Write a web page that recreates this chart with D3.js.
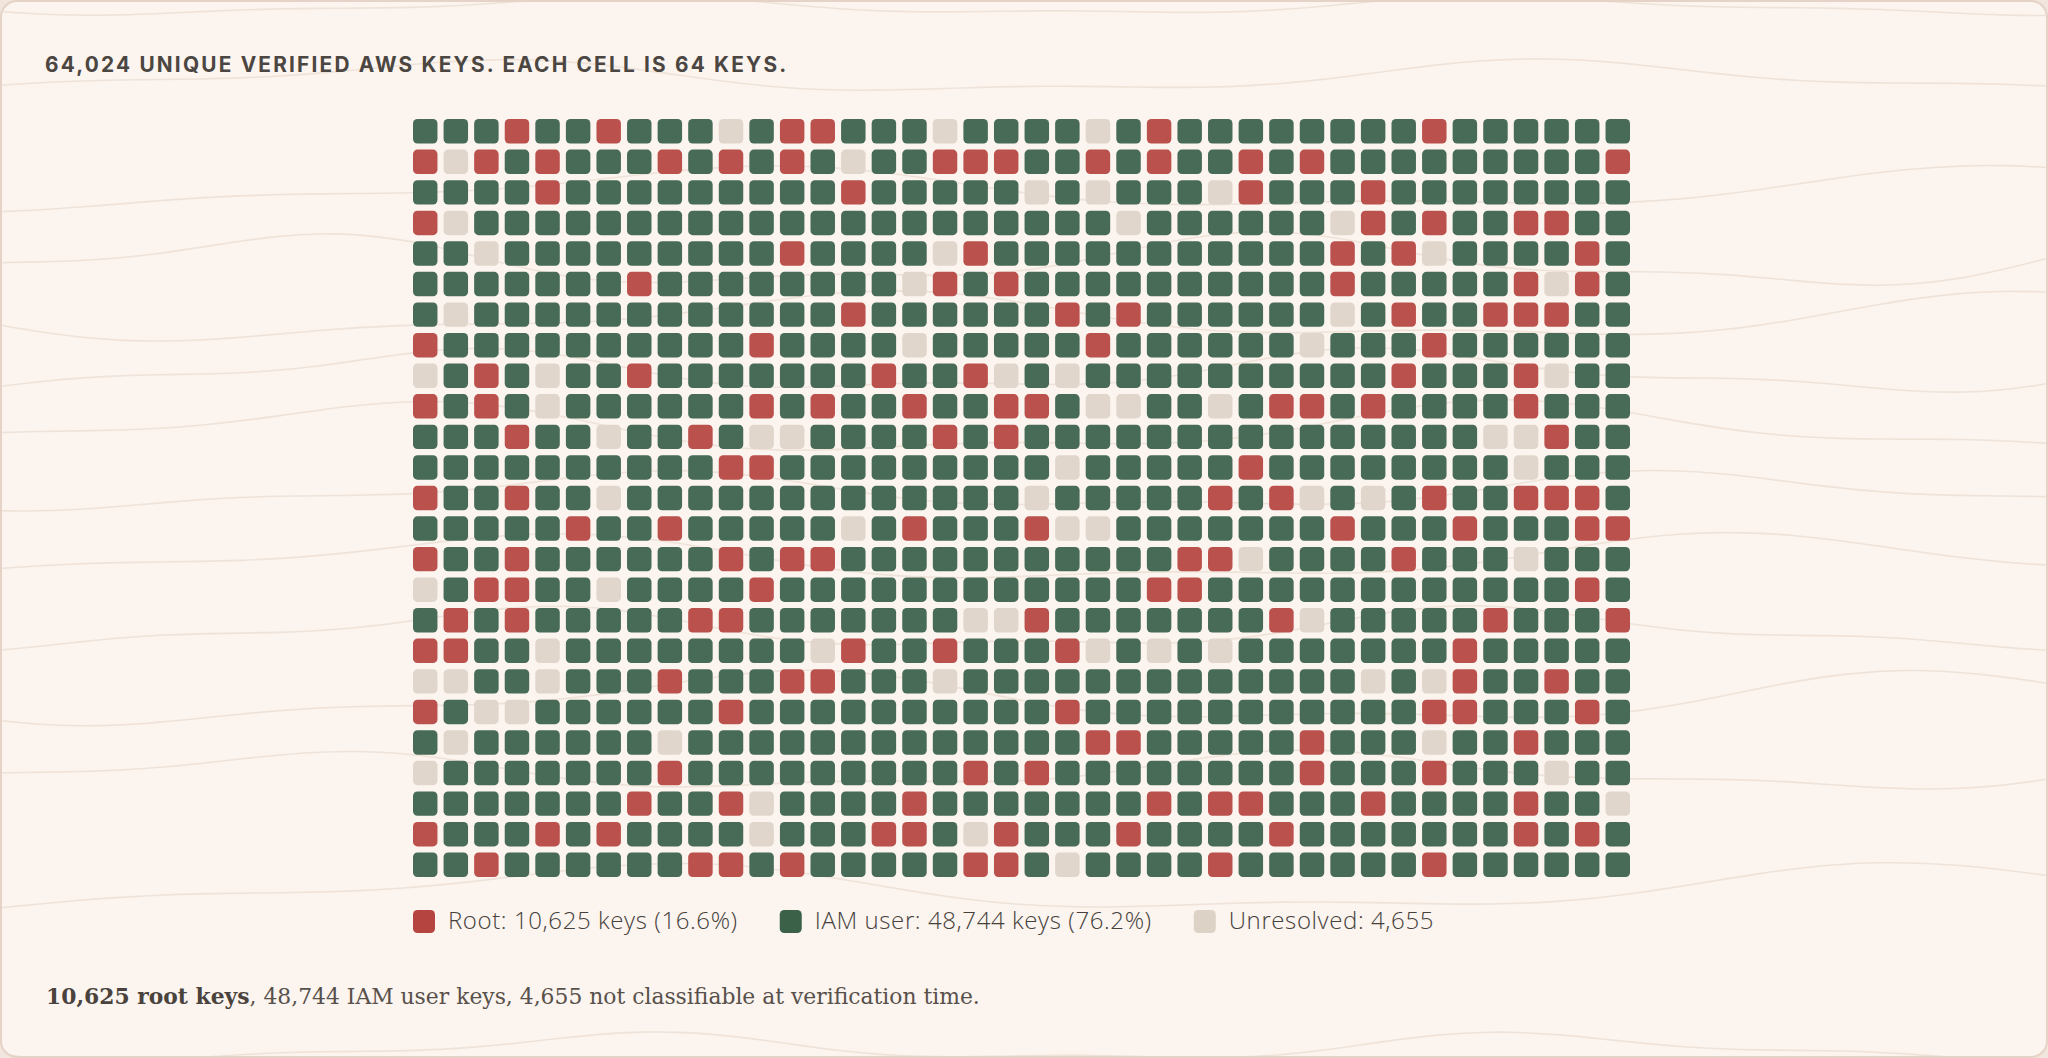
<!DOCTYPE html>
<html>
<head>
<meta charset="utf-8">
<script src="https://cdn.jsdelivr.net/npm/d3@7"></script>
<style>
  html, body { margin: 0; padding: 0; background: #f1e6dd; }
  svg { display: block; }
</style>
</head>
<body>
<div id="chart"></div>
<script>
// categories, in legend order
const categories = ["root", "iam", "unresolved"];
const categoryCodes = ["R", "G", "U"];
const keyCounts = [10625, 48744, 4655];
const legendLabels = [
  "Root: 10,625 keys (16.6%)",
  "IAM user: 48,744 keys (76.2%)",
  "Unresolved: 4,655",
];
const colors = ["#bb514d", "#476b56", "#e1d6cb"];
const swatchColors = ["#b5433f", "#3c6149", "#ddd2c6"];

// one string per grid row, one letter per cell (R root, G IAM user, U unresolved)
const cellRows = [
  "GGGRGGRGGGUGRRGGGUGG" + "GGUGRGGGGGGGGRGGGGGG",
  "RURGRGGGRGRGRGUGGRRR" + "GGRGRGGRGRGGGGGGGGGR",
  "GGGGRGGGGGGGGGRGGGGG" + "UGUGGGURGGGRGGGGGGGG",
  "RUGGGGGGGGGGGGGGGGGG" + "GGGUGGGGGGURGRGGRRGG",
  "GGUGGGGGGGGGRGGGGURG" + "GGGGGGGGGGRGRUGGGGRG",
  "GGGGGGGRGGGGGGGGURGR" + "GGGGGGGGGGRGGGGGRURG",
  "GUGGGGGGGGGGGGRGGGGG" + "GRGRGGGGGGUGRGGRRRGG",
  "RGGGGGGGGGGRGGGGUGGG" + "GGRGGGGGGUGGGRGGGGGG",
  "UGRGUGGRGGGGGGGRGGRU" + "GUGGGGGGGGGGRGGGRUGG",
  "RGRGUGGGGGGRGRGGRGGR" + "RGUUGGUGRRGRGGGGRGGG",
  "GGGRGGUGGRGUUGGGGRGR" + "GGGGGGGGGGGGGGGUURGG",
  "GGGGGGGGGGRRGGGGGGGG" + "GUGGGGGRGGGGGGGGUGGG",
  "RGGRGGUGGGGGGGGGGGGG" + "UGGGGGRGRUGUGRGGRRRG",
  "GGGGGRGGRGGGGGUGRGGG" + "RUUGGGGGGGRGGGRGGGRR",
  "RGGRGGGGGGRGRRGGGGGG" + "GGGGGRRUGGGGRGGGUGGG",
  "UGRRGGUGGGGRGGGGGGGG" + "GGGGRRGGGGGGGGGGGGRG",
  "GRGRGGGGGRRGGGGGGGUU" + "RGGGGGGGRUGGGGGRGGGR",
  "RRGGUGGGGGGGGURGGRGG" + "GRUGUGUGGGGGGGRGGGGG",
  "UUGGUGGGRGGGRRGGGUGG" + "GGGGGGGGGGGUGURGGRGG",
  "RGUUGGGGGGRGGGGGGGGG" + "GRGGGGGGGGGGGRRGGGRG",
  "GUGGGGGGUGGGGGGGGGGG" + "GGRRGGGGGRGGGUGGRGGG",
  "UGGGGGGGRGGGGGGGGGRG" + "RGGGGGGGGRGGGRGGGUGG",
  "GGGGGGGRGGRUGGGGRGGG" + "GGGGRGRRGGGRGGGGRGGU",
  "RGGGRGRGGGGUGGGRRGUR" + "GGGRGGGGRGGGGGGGRGRG",
  "GGRGGGGGGRRGRGGGGGRR" + "GUGGGGRGGGGGGRGGGGGG",
];

const keysPerCell = 64;
const totalKeys = d3.sum(keyCounts);
const title = `${d3.format(",")(totalKeys)} unique verified AWS keys. Each cell is ${keysPerCell} keys.`;

// faint background contours: [baseline y, amplitude, wavelength, phase]
const contours = [
  [6, 8, 900, 0.4], [78, 14, 1100, 2.1], [190, 18, 1300, 1.2],
  [262, 22, 1000, 3.0], [318, 20, 1200, 0.2], [372, 18, 950, 1.8],
  [430, 22, 1150, 2.7], [492, 16, 1050, 0.9], [560, 20, 1250, 2.2],
  [630, 18, 980, 1.4], [700, 22, 1180, 0.6], [772, 16, 1020, 2.9],
  [890, 20, 1300, 1.7], [1048, 12, 900, 0.3],
];

const width = 2048;
const height = 1058;

const svg = d3
  .select("#chart")
  .append("svg")
  .attr("width", width)
  .attr("height", height);

const defs = svg.append("defs");
defs
  .append("clipPath")
  .attr("id", "card-clip")
  .append("rect")
  .attr("x", 1)
  .attr("y", 1)
  .attr("width", width - 2)
  .attr("height", height - 2)
  .attr("rx", 16);

svg
  .append("rect")
  .attr("x", 1)
  .attr("y", 1)
  .attr("width", width - 2)
  .attr("height", height - 2)
  .attr("rx", 16)
  .attr("fill", "#fbf4ef");

const contourLine = d3
  .line()
  .x((d) => d[0])
  .y((d) => d[1])
  .curve(d3.curveBasis);

svg
  .append("g")
  .attr("clip-path", "url(#card-clip)")
  .selectAll("path")
  .data(contours)
  .enter()
  .append("path")
  .attr("d", (c) =>
    contourLine(
      d3.range(0, width + 40, 40).map((x) => [
        x,
        c[0] + c[1] * Math.sin((x / c[2]) * 2 * Math.PI + c[3]) +
          c[1] * 0.4 * Math.sin((x / (c[2] * 0.45)) * 2 * Math.PI + c[3] * 2),
      ])
    )
  )
  .attr("fill", "none")
  .attr("stroke", "#efe3d9")
  .attr("stroke-width", 1.6);

svg
  .append("rect")
  .attr("x", 1)
  .attr("y", 1)
  .attr("width", width - 2)
  .attr("height", height - 2)
  .attr("rx", 16)
  .attr("fill", "none")
  .attr("stroke", "#e4d3c6")
  .attr("stroke-width", 2);

// title
svg
  .append("text")
  .attr("x", 45)
  .attr("y", 72)
  .attr("fill", "#4b4641")
  .style("font-family", "Inter, 'Open Sans', sans-serif")
  .style("font-weight", 700)
  .style("font-size", "20.8px")
  .style("letter-spacing", "2.2px")
  .text(title.toUpperCase());

// waffle grid
const nCols = cellRows[0].length;
const nRows = cellRows.length;

const cells = [];
cellRows.forEach((row, r) => {
  row.split("").forEach((code, c) => {
    cells.push({ row: r, col: c, cat: categories[categoryCodes.indexOf(code)] });
  });
});

const x = d3.scaleBand().domain(d3.range(nCols)).range([413, 1630]).paddingInner(0.2);
const y = d3.scaleBand().domain(d3.range(nRows)).range([119, 877]).paddingInner(0.2);
const color = d3.scaleOrdinal().domain(categories).range(colors);

svg
  .append("g")
  .attr("class", "cells")
  .selectAll("rect")
  .data(cells)
  .enter()
  .append("rect")
  .attr("x", (d) => x(d.col))
  .attr("y", (d) => y(d.row))
  .attr("width", x.bandwidth())
  .attr("height", y.bandwidth())
  .attr("rx", 4.5)
  .attr("fill", (d) => color(d.cat));

// legend
const legend = svg.append("g").attr("transform", "translate(413, 910)");
let legendX = 0;
categories.forEach((cat, i) => {
  const item = legend.append("g").attr("transform", `translate(${legendX}, 0)`);
  item
    .append("rect")
    .attr("width", 22)
    .attr("height", 23)
    .attr("rx", 4.5)
    .attr("fill", swatchColors[i]);
  const label = item
    .append("text")
    .attr("x", 35)
    .attr("y", 19)
    .attr("fill", "#46413c")
    .style("font-family", "'Open Sans', sans-serif")
    .style("font-weight", 300)
    .style("font-size", "24px")
    .style("letter-spacing", "0.6px")
    .text(legendLabels[i]);
  legendX += 35 + label.node().getComputedTextLength() + 42;
});

// footnote
const note = svg
  .append("text")
  .attr("x", 46)
  .attr("y", 1004)
  .attr("fill", "#58504a")
  .style("font-family", "'DejaVu Serif', serif")
  .style("font-size", "21.85px");
note
  .append("tspan")
  .attr("fill", "#4a433d")
  .style("font-weight", 700)
  .text(`${d3.format(",")(keyCounts[0])} root keys`);
note
  .append("tspan")
  .text(
    `, ${d3.format(",")(keyCounts[1])} IAM user keys, ${d3.format(",")(keyCounts[2])} not classifiable at verification time.`
  );
</script>
</body>
</html>
